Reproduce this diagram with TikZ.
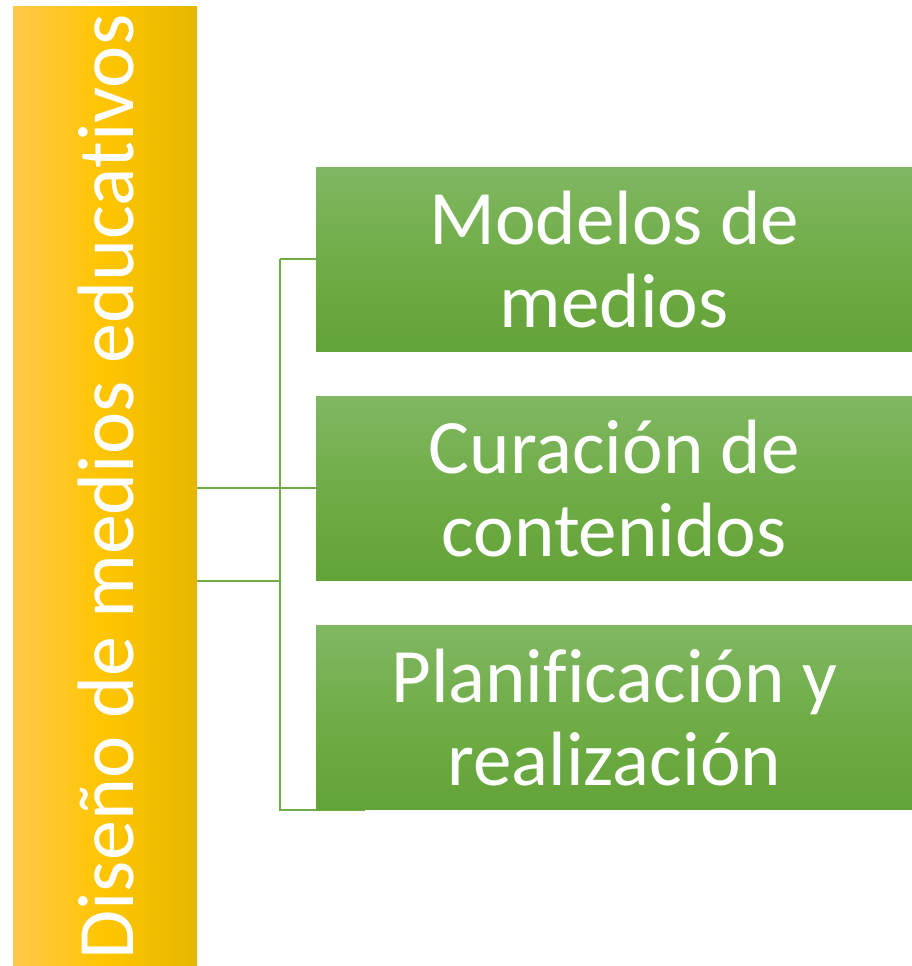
\documentclass[tikz,border=0pt]{standalone}
\usepackage{fontspec}
\setmainfont[Ligatures=CommonOff]{Carlito}
\usetikzlibrary{backgrounds}
\definecolor{grn}{HTML}{70AD47}
\definecolor{grntop}{HTML}{80B762}
\definecolor{grnbot}{HTML}{62A337}
\definecolor{ylwl}{HTML}{FFC94A}
\definecolor{ylwm}{HTML}{FFC500}
\definecolor{ylwr}{HTML}{E5B700}
\begin{document}
\begin{tikzpicture}[x=1pt,y=-1pt,
  gbox/.style={anchor=north west, minimum width=596pt, minimum height=184pt, inner sep=0pt,
    top color=grntop, bottom color=grnbot, middle color=grn, text=white, align=center,
    font=\fontsize{77}{83}\selectfont},
  conn/.style={draw=grn, line width=2.5pt}]
\useasboundingbox (0,0) rectangle (912,966);
\node[anchor=north west, minimum width=184pt, minimum height=960pt, inner sep=0pt,
  left color=ylwl, right color=ylwr, middle color=ylwm] (main) at (13,6) {};
\node[rotate=90, text=white, font=\fontsize{80}{86}\selectfont] (mtext) at (106,487) {Diseño de medios educativos};
\coordinate (v1) at (280,259);
\coordinate (v2) at (280,488);
\coordinate (v3) at (280,581);
\coordinate (v4) at (280,810);
\coordinate (e4) at (365,810);
\node[gbox] (b1) at (316,167) {Modelos de\\medios};
\node[gbox] (b2) at (316,396) {Curación de\\contenidos};
\node[gbox] (b3) at (316,625) {Planificación y\\realización};
\begin{scope}[on background layer]
\draw[conn] (main.east |- v2) -- (b2.west |- v2);
\draw[conn] (main.east |- v3) -- (v3);
\draw[conn] (v1) -- (v4) -- (e4);
\draw[conn] (v1) -- (b1.west |- v1);
\end{scope}
\end{tikzpicture}
\end{document}
